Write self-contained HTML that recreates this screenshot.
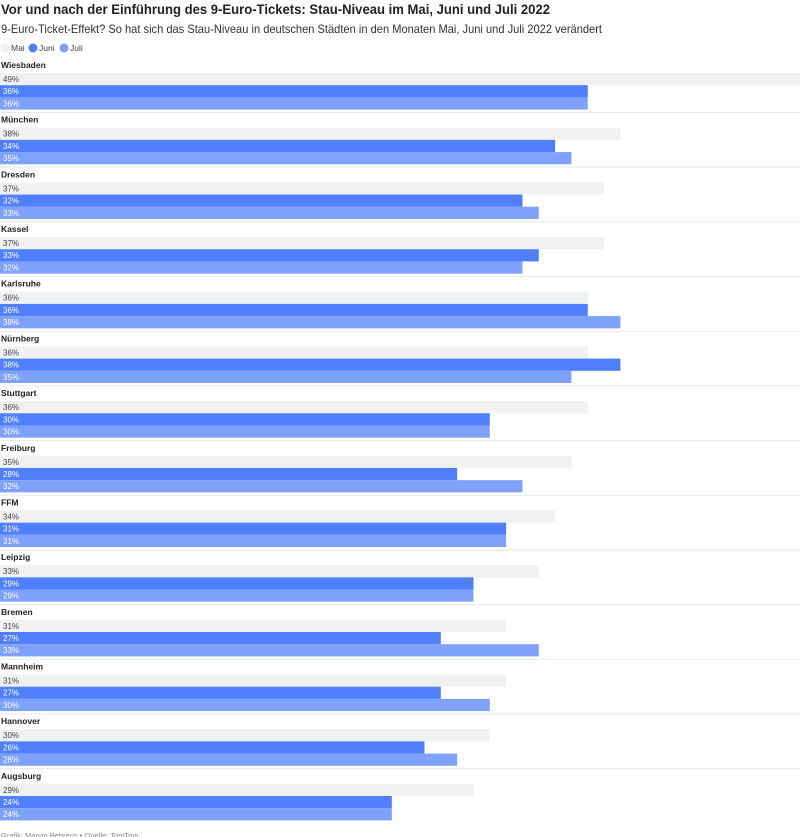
<!DOCTYPE html>
<html><head><meta charset="utf-8"><style>
body{margin:0;width:800px;height:837px;overflow:hidden;background:#fff;font-family:"Liberation Sans",sans-serif;color:#222}
svg{position:absolute;left:0;top:0}
</style></head><body>
<svg id="c" width="800" height="837">
<text x="1" y="14" font-size="13.5" font-weight="bold" fill="#222" textLength="549" lengthAdjust="spacingAndGlyphs">Vor und nach der Einführung des 9-Euro-Tickets: Stau-Niveau im Mai, Juni und Juli 2022</text>
<text x="1" y="33" font-size="12" fill="#333" textLength="601" lengthAdjust="spacingAndGlyphs">9-Euro-Ticket-Effekt? So hat sich das Stau-Niveau in deutschen Städten in den Monaten Mai, Juni und Juli 2022 verändert</text>
<g>
<circle cx="5" cy="48" r="4.5" fill="#eff1f3"/><text x="11" y="51" font-size="8.5" fill="#444">Mai</text>
<circle cx="33" cy="48" r="4.5" fill="#4f7ffa"/><text x="39" y="51" font-size="8.5" fill="#444">Juni</text>
<circle cx="64" cy="48" r="4.5" fill="#7ea1fb"/><text x="70" y="51" font-size="8.5" fill="#444">Juli</text>
</g>
<text x="1" y="838" font-size="7.5" fill="#888">Grafik: Marvin Behrens • Quelle: TomTom</text>
</svg>
<script>
const cities=["Wiesbaden","München","Dresden","Kassel","Karlsruhe","Nürnberg","Stuttgart","Freiburg","FFM","Leipzig","Bremen","Mannheim","Hannover","Augsburg"];
const mai=[49,38,37,37,36,36,36,35,34,33,31,31,30,29];
const juni=[36,34,32,33,36,38,30,28,31,29,27,27,26,24];
const juli=[36,35,33,32,38,35,30,32,31,29,33,30,28,24];
const NS="http://www.w3.org/2000/svg";
const svg=document.getElementById('c');
const maxV=Math.max(...mai,...juni,...juli);
const x=v=>v/maxV*800;
const series=[{d:mai,c:"#eff1f3",t:"#444",n:"mai"},{d:juni,c:"#4f7ffa",t:"#fff",n:"juni"},{d:juli,c:"#7ea1fb",t:"#fff",n:"juli"}];
function mk(tag,attrs){const e=document.createElementNS(NS,tag);for(const k in attrs)e.setAttribute(k,attrs[k]);return e;}
cities.forEach((city,i)=>{
  const top=61+i*54.68;
  const g=mk('g',{});
  
  
  const lab=mk('text',{x:1,y:top+7,'font-size':8.5,'font-weight':'bold',fill:'#222'});
  lab.textContent=city;
  
  
  g.appendChild(lab);
  series.forEach((s,j)=>{
    const y=top+12+j*12.2;
    const r=mk('rect',{x:0,y:y,width:x(s.d[i]),height:12.2,fill:s.c});
    
    
    g.appendChild(r);
    const t=mk('text',{x:3,y:y+9,'font-size':8,fill:s.t});
    t.textContent=s.d[i]+'%';
    
    
    g.appendChild(t);
  });
  if(i<cities.length-1){
    const ln=mk('line',{x1:0,x2:800,y1:top+51.5,y2:top+51.5,stroke:'#e6e8ea','stroke-width':1});
    
    
    g.appendChild(ln);
  }
  svg.appendChild(g);
});
</script>
</body></html>
